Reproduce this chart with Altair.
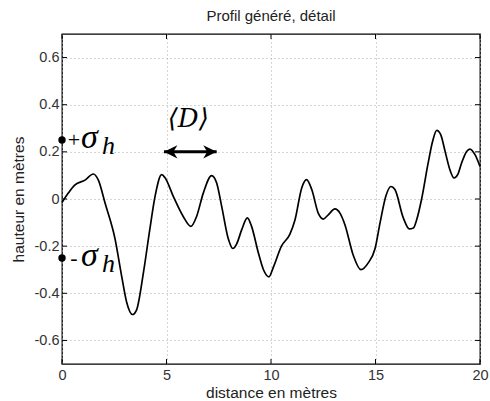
import altair as alt
import pandas as pd

# traced profile
dist = [0, 0.3, 0.62, 1.1, 1.5, 1.74, 2.06, 2.54, 2.86, 3.1, 3.37, 3.57, 3.9, 4.2, 4.45, 4.77,
        4.93, 5.33, 5.8, 6.17, 6.44, 6.76, 7.16, 7.4, 7.64, 7.96, 8.17, 8.36, 8.6, 8.87, 9.07,
        9.4, 9.64, 9.9, 10.11, 10.5, 10.9, 11.15, 11.47, 11.7, 11.95, 12.26, 12.5, 12.74, 13.06,
        13.3, 13.54, 13.94, 14.3, 14.66, 14.98, 15.22, 15.5, 15.74, 15.93, 16.33, 16.62, 16.81,
        16.97, 17.2, 17.52, 17.73, 17.93, 18.12, 18.33, 18.56, 18.76, 18.93, 19.12, 19.36, 19.52,
        19.76, 20]
height = [-0.015, 0.025, 0.06, 0.08, 0.106, 0.08, -0.017, -0.17, -0.33, -0.44, -0.49, -0.47,
          -0.31, -0.13, 0.01, 0.103, 0.09, 0.01, -0.074, -0.116, -0.074, 0.025, 0.099, 0.068,
          -0.031, -0.17, -0.21, -0.19, -0.13, -0.08, -0.116, -0.23, -0.30, -0.33, -0.29, -0.2,
          -0.15, -0.088, 0.047, 0.082, 0.04, -0.06, -0.085, -0.067, -0.042, -0.06, -0.11, -0.24,
          -0.30, -0.27, -0.21, -0.10, 0.014, 0.053, 0.04, -0.08, -0.127, -0.123, -0.088, -0.003,
          0.153, 0.244, 0.291, 0.273, 0.202, 0.124, 0.089, 0.103, 0.153, 0.202, 0.212, 0.188,
          0.138]

x_ticks = [0, 5, 10, 15, 20]
y_ticks = [-0.6, -0.4, -0.2, 0, 0.2, 0.4, 0.6]

sigma_y = [0.25, -0.25]
sigma_sign = ["+", "-"]
arrow_x = [4.88, 7.40]
arrow_y = 0.2
d_label_x = 6.04

W, H = 418, 330

FONT = "Liberation Sans"
SERIF = "Liberation Serif"

xscale = alt.Scale(domain=[0, 20], nice=False, zero=False)
yscale = alt.Scale(domain=[-0.7, 0.7], nice=False, zero=False)
xaxis = alt.Axis(
    values=x_ticks, format="d", grid=True, labelFlush=False,
    gridDash=[1, 3], gridColor="#aaa", gridWidth=1, ticks=False, domain=False,
    labelPadding=4, labelFontSize=14.5, labelFont=FONT, labelColor="#333",
    titleFont=FONT, titleFontSize=15.5, titleFontWeight="normal", titleColor="#222",
    titleY=33, titleBaseline="alphabetic")
yaxis = alt.Axis(
    values=y_ticks, grid=True, labelFlush=False,
    labelExpr="datum.value == 0 ? '0' : (datum.value < 0 ? '-' : '') + format(abs(datum.value), '.1f')",
    gridDash=[1, 3], gridColor="#aaa", gridWidth=1, ticks=False, domain=False,
    labelPadding=3, labelFontSize=14.5, labelFont=FONT, labelColor="#333",
    titleFont=FONT, titleFontSize=15.5, titleFontWeight="normal", titleColor="#222",
    titleX=-39, titleBaseline="alphabetic")


def X(f="x"):
    return alt.X(f + ":Q", scale=xscale, axis=xaxis, title="distance en mètres")


def Y(f="y"):
    return alt.Y(f + ":Q", scale=yscale, axis=yaxis, title="hauteur en mètres")


df = pd.DataFrame({"x": dist, "y": height})
line = alt.Chart(df).mark_line(color="black", strokeWidth=1.7, interpolate="monotone").encode(
    x=X(), y=Y())

ydf = pd.DataFrame({"y": y_ticks})
xdf = pd.DataFrame({"x": x_ticks})
tl = alt.Chart(ydf).mark_rule(color="black", strokeWidth=1).encode(
    y=Y(), x=alt.value(0), x2=alt.value(5))
tr = alt.Chart(ydf).mark_rule(color="black", strokeWidth=1).encode(
    y=Y(), x=alt.value(W), x2=alt.value(W - 5))
tb = alt.Chart(xdf).mark_rule(color="black", strokeWidth=1).encode(
    x=X(), y=alt.value(H), y2=alt.value(H - 5))
tt = alt.Chart(xdf).mark_rule(color="black", strokeWidth=1).encode(
    x=X(), y=alt.value(0), y2=alt.value(5))

sdf = pd.DataFrame({"x": [0, 0], "y": sigma_y, "s": sigma_sign, "sig": ["σ", "σ"], "h": ["h", "h"]})
dots = alt.Chart(sdf).mark_point(filled=True, size=55, color="black", opacity=1, clip=False).encode(
    x=X(), y=Y())
sign_t = alt.Chart(sdf).mark_text(font=SERIF, fontSize=22, align="center", baseline="middle",
                                  dx=12, dy=0, color="black").encode(text="s:N", x=X(), y=Y())
sig_t = alt.Chart(sdf).mark_text(font=SERIF, fontSize=34, fontStyle="italic", align="left",
                                 baseline="alphabetic", dx=19, dy=8, color="black").encode(
    text="sig:N", x=X(), y=Y())
h_t = alt.Chart(sdf).mark_text(font=SERIF, fontSize=26, fontStyle="italic", align="left",
                               baseline="alphabetic", dx=40, dy=14, color="black").encode(
    text="h:N", x=X(), y=Y())

adf = pd.DataFrame({"x": [arrow_x[0]], "x2": [arrow_x[1]], "y": [arrow_y]})
shaft = alt.Chart(adf).mark_rule(color="black", strokeWidth=3).encode(x=X(), x2="x2:Q", y=Y())
hl = alt.Chart(pd.DataFrame({"x": [arrow_x[0]], "y": [arrow_y]})).mark_point(
    shape="M0,0L2,-1L1.4,0L2,1Z", size=180, filled=True, color="black", opacity=1).encode(x=X(), y=Y())
hr = alt.Chart(pd.DataFrame({"x": [arrow_x[1]], "y": [arrow_y]})).mark_point(
    shape="M0,0L-2,-1L-1.4,0L-2,1Z", size=180, filled=True, color="black", opacity=1).encode(x=X(), y=Y())
dlab = alt.Chart(pd.DataFrame({"x": [d_label_x], "y": [arrow_y], "t": ["⟨D⟩"]})).mark_text(
    font="DejaVu Serif", fontSize=26, fontStyle="italic", align="center", baseline="middle",
    dy=-33, color="black").encode(text="t:N", x=X(), y=Y())

chart = alt.layer(line, tl, tr, tb, tt, shaft, hl, hr, dlab, dots, sign_t, sig_t, h_t).properties(
    width=W, height=H,
    padding={"left": 62, "top": 34, "right": 10, "bottom": 37},
    autosize=alt.AutoSizeParams(type="none"),
    title=alt.TitleParams("Profil généré, détail", font=FONT, fontSize=15, fontWeight="normal",
                          color="#222", offset=10),
).configure_view(stroke="black", strokeWidth=1.3)

chart.save("out.html", embed_options={"renderer": "svg", "actions": False})
